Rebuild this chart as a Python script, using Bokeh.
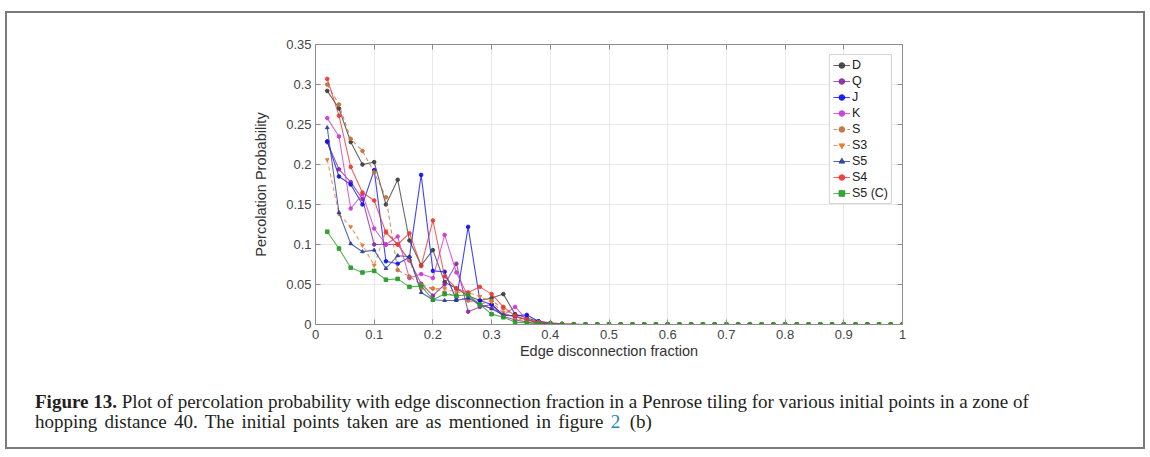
import numpy as np
from bokeh.plotting import figure
from bokeh.models import Range1d, FixedTicker, LinearAxis, Legend, LegendItem, Div
from bokeh.layouts import column
from bokeh.embed import file_html
from bokeh.resources import INLINE

# ---------------- data ----------------
x_vals = [0.02, 0.04, 0.06, 0.08, 0.10, 0.12, 0.14, 0.16, 0.18, 0.20,
          0.22, 0.24, 0.26, 0.28, 0.30, 0.32, 0.34, 0.36, 0.38, 0.40,
          0.42, 0.44, 0.46, 0.48, 0.50, 0.52, 0.54, 0.56, 0.58, 0.60,
          0.62, 0.64, 0.66, 0.68, 0.70, 0.72, 0.74, 0.76, 0.78, 0.80,
          0.82, 0.84, 0.86, 0.88, 0.90, 0.92, 0.94, 0.96, 0.98, 1.00]

tail_zeros = [0, 0, 0, 0, 0, 0, 0, 0, 0, 0, 0, 0, 0, 0, 0, 0, 0, 0, 0, 0, 0, 0, 0, 0, 0]

D = [0.292, 0.270, 0.228, 0.200, 0.203, 0.150, 0.181, 0.105, 0.074, 0.093,
     0.053, 0.045, 0.036, 0.030, 0.033, 0.038, 0.013, 0.008, 0.004, 0.002,
     0.001, 0.0005, 0, 0, 0] + tail_zeros
Q = [0.228, 0.194, 0.178, 0.157, 0.100, 0.100, 0.100, 0.080, 0.051, 0.036,
     0.050, 0.076, 0.016, 0.022, 0.025, 0.010, 0.006, 0.003, 0.001, 0.0005,
     0, 0, 0, 0, 0] + tail_zeros
J = [0.229, 0.185, 0.175, 0.150, 0.193, 0.079, 0.076, 0.084, 0.187, 0.067,
     0.066, 0.031, 0.122, 0.030, 0.025, 0.012, 0.011, 0.012, 0.004, 0.001,
     0, 0, 0, 0, 0] + tail_zeros
K = [0.258, 0.235, 0.145, 0.163, 0.120, 0.100, 0.110, 0.058, 0.063, 0.058,
     0.112, 0.065, 0.035, 0.025, 0.020, 0.012, 0.022, 0.006, 0.002, 0.001,
     0, 0, 0, 0, 0] + tail_zeros
S = [0.300, 0.275, 0.232, 0.217, 0.190, 0.159, 0.068, 0.060, 0.050, 0.045,
     0.040, 0.035, 0.030, 0.025, 0.030, 0.020, 0.010, 0.006, 0.003, 0.001,
     0.0005, 0, 0, 0, 0] + tail_zeros
S3 = [0.206, 0.138, 0.122, 0.099, 0.074, 0.117, 0.100, 0.080, 0.044, 0.045,
      0.045, 0.040, 0.040, 0.035, 0.028, 0.015, 0.008, 0.004, 0.002, 0.001,
      0, 0, 0, 0, 0] + tail_zeros
S5 = [0.246, 0.140, 0.101, 0.091, 0.093, 0.070, 0.086, 0.085, 0.040, 0.031,
      0.030, 0.030, 0.033, 0.025, 0.020, 0.012, 0.010, 0.006, 0.002, 0.001,
      0, 0, 0, 0, 0] + tail_zeros
S4 = [0.307, 0.261, 0.197, 0.165, 0.155, 0.115, 0.100, 0.114, 0.073, 0.130,
      0.060, 0.045, 0.040, 0.047, 0.038, 0.022, 0.011, 0.006, 0.003, 0.001,
      0.0005, 0, 0, 0, 0] + tail_zeros
S5C = [0.116, 0.095, 0.071, 0.065, 0.067, 0.056, 0.057, 0.047, 0.048, 0.031,
       0.038, 0.036, 0.037, 0.025, 0.013, 0.009, 0.003, 0.002, 0.001, 0.0005,
       0, 0, 0, 0, 0] + tail_zeros

series_names = ["D", "Q", "J", "K", "S", "S3", "S5", "S4", "S5 (C)"]
series_values = [D, Q, J, K, S, S3, S5, S4, S5C]

x_ticks = [0, 0.1, 0.2, 0.3, 0.4, 0.5, 0.6, 0.7, 0.8, 0.9, 1.0]
x_tick_labels = ["0", "0.1", "0.2", "0.3", "0.4", "0.5", "0.6", "0.7", "0.8", "0.9", "1"]
y_ticks = [0, 0.05, 0.1, 0.15, 0.2, 0.25, 0.3, 0.35]
y_tick_labels = ["0", "0.05", "0.1", "0.15", "0.2", "0.25", "0.3", "0.35"]

x_label = "Edge disconnection fraction"
y_label = "Percolation Probability"

caption_bold = "Figure 13."
caption_line1 = "Plot of percolation probability with edge disconnection fraction in a Penrose tiling for various initial points in a zone of"
caption_line2 = "hopping distance 40. The initial points taken are as mentioned in figure"
caption_ref = "2"
caption_end = "(b)"

# ---------------- styles ----------------
styles = {
    "D":      dict(color="#3c3c3c", dash="solid",  marker="circle"),
    "Q":      dict(color="#8a2a9e", dash="solid",  marker="circle"),
    "J":      dict(color="#1010f0", dash="solid",  marker="circle"),
    "K":      dict(color="#c93bd0", dash="solid",  marker="circle"),
    "S":      dict(color="#c0703c", dash="4 3",    marker="circle"),
    "S3":     dict(color="#e8782a", dash="4 3",    marker="inverted_triangle"),
    "S5":     dict(color="#2a3f9e", dash="solid",  marker="triangle"),
    "S4":     dict(color="#ee3535", dash="solid",  marker="circle"),
    "S5 (C)": dict(color="#2a9a2a", dash="solid",  marker="square"),
}

# box spans page x 7..1143, y 13..447 ; outline drawn just outside it
W, H_PLOT, H_CAP = 1136, 368, 66
p = figure(width=W, height=H_PLOT, output_backend="svg", toolbar_location=None,
           x_range=Range1d(0, 1), y_range=Range1d(0, 0.35),
           min_border_left=308, min_border_right=241,
           min_border_top=31, min_border_bottom=57)
p.background_fill_color = "white"
p.border_fill_color = "white"
p.outline_line_color = "#8c8c8c"
p.outline_line_width = 1

tick_font = "Liberation Sans"
for ax in (p.xaxis[0], p.yaxis[0]):
    ax.axis_line_color = "#8c8c8c"
    ax.major_tick_line_color = "#8c8c8c"
    ax.major_tick_in = 5
    ax.major_tick_out = 0
    ax.minor_tick_line_color = None
    ax.major_label_text_font = tick_font
    ax.major_label_text_font_size = "13px"
    ax.major_label_text_color = "#444444"
    ax.axis_label_text_font = tick_font
    ax.axis_label_text_font_size = "14.5px"
    ax.axis_label_text_font_style = "normal"
    ax.axis_label_text_color = "#333333"

p.xaxis[0].ticker = FixedTicker(ticks=x_ticks)
p.xaxis[0].major_label_overrides = {t: l for t, l in zip(x_ticks, x_tick_labels)}
p.yaxis[0].ticker = FixedTicker(ticks=y_ticks)
p.yaxis[0].major_label_overrides = {t: l for t, l in zip(y_ticks, y_tick_labels)}
p.xaxis[0].axis_label = x_label
p.yaxis[0].axis_label = y_label
p.xaxis[0].major_label_standoff = 5
p.xaxis[0].axis_label_standoff = 1
p.yaxis[0].major_label_standoff = 4
p.yaxis[0].axis_label_standoff = 14

# top/right axes with inward ticks, no labels
for loc, ticks in (("right", y_ticks), ("above", x_ticks)):
    ax = LinearAxis(ticker=FixedTicker(ticks=ticks), major_label_text_color=None,
                    major_label_text_font_size="1px",
                    axis_line_color="#8c8c8c", major_tick_line_color="#8c8c8c",
                    major_tick_in=5, major_tick_out=0, minor_tick_line_color=None,
                    major_label_standoff=0)
    p.add_layout(ax, loc)

p.grid.grid_line_color = "#e8e8e8"
p.grid.grid_line_width = 1
p.xgrid.ticker = FixedTicker(ticks=x_ticks)
p.ygrid.ticker = FixedTicker(ticks=y_ticks)

items = []
for name, vals in zip(series_names, series_values):
    st = styles[name]
    r1 = p.line(x_vals, vals, line_color=st["color"], line_width=1.1,
                line_dash=st["dash"], line_alpha=0.78)
    r2 = p.scatter(x_vals, vals, marker=st["marker"], size=3.6,
                   fill_color=st["color"], line_color=st["color"], alpha=0.9)
    items.append(LegendItem(label=name, renderers=[r1, r2]))

legend = Legend(items=items, location="top_right", margin=10,
                label_text_font=tick_font, label_text_font_size="12.5px",
                label_text_color="#222222", glyph_width=17, glyph_height=14,
                label_height=14, spacing=2, padding=3, label_standoff=2,
                border_line_color="#aaaaaa", background_fill_color="white",
                background_fill_alpha=1.0)
p.add_layout(legend)

cap_html = (
    '<div style="font-family: \'Liberation Serif\', serif; font-size: 19px; '
    'line-height: 20px; color: #231f20; padding: 11px 0 0 28px; white-space: nowrap;">'
    f'<b>{caption_bold}</b> {caption_line1}<br>'
    f'<span style="word-spacing: 2.5px;">{caption_line2} </span>'
    f'<span style="color:#2a84c0">{caption_ref}</span>&nbsp; {caption_end}'
    '</div>'
)
cap_div = Div(text=cap_html, width=W, height=H_CAP, margin=0)

layout = column(p, cap_div, spacing=0)
layout.margin = (13, 0, 0, 7)
layout.styles = {"outline": "2px solid #7a7a7a", "outline-offset": "0px"}

open("out.html", "w").write(file_html(layout, INLINE))
